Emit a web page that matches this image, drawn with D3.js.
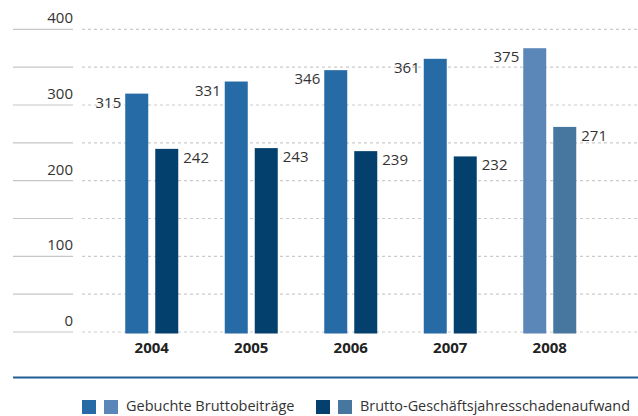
<!DOCTYPE html>
<html>
<head>
<meta charset="utf-8">
<script src="https://cdn.jsdelivr.net/npm/d3@7"></script>
<style>
  body { margin: 0; background: #fff; }
  svg { display: block; font-family: "Open Sans", sans-serif; }
</style>
</head>
<body>
<svg id="chart" width="638" height="416"></svg>
<script>
const years = ["2004", "2005", "2006", "2007", "2008"];
const gebuchte = [315, 331, 346, 361, 375];
const schaden = [242, 243, 239, 232, 271];
const tickValues = [0, 100, 200, 300, 400];
const gridValues = [0, 50, 100, 150, 200, 250, 300, 350, 400];
const seriesNames = ["Gebuchte Bruttobeiträge", "Brutto-Geschäftsjahresschadenaufwand"];

const colors = {
    geb: "#266aa6", gebHi: "#5b87b8",
    sch: "#03406d", schHi: "#47769f"
};

const svg = d3.select("#chart");
const width = 638;

const y = d3.scaleLinear().domain([0, 400]).range([332, 29.3]);
const x = d3.scaleBand().domain(years).range([102, 599.5]);

let bar_w = 23, bar_gap = 3.5;

// gridlines: solid stub on the left, dashed across the plot
const grid = svg.append("g");
grid.selectAll("line.stub")
    .data(gridValues)
    .join("line")
    .attr("class", "stub")
    .attr("x1", 13).attr("x2", 73)
    .attr("y1", d => y(d)).attr("y2", d => y(d))
    .attr("stroke", "#c6c6c6")
    .attr("stroke-width", 1.2);

grid.selectAll("line.dash")
    .data(gridValues)
    .join("line")
    .attr("class", "dash")
    .attr("x1", 82).attr("x2", width)
    .attr("y1", d => y(d)).attr("y2", d => y(d))
    .attr("stroke", "#cbcbcb")
    .attr("stroke-width", 1.2)
    .attr("stroke-dasharray", "3,3");

grid.selectAll("text")
    .data(tickValues)
    .join("text")
    .attr("x", 73)
    .attr("y", d => y(d) - 6)
    .attr("text-anchor", "end")
    .attr("fill", "#333")
    .attr("font-size", "15px")
    .text(d => d);

// bars
const groups = svg.append("g")
    .selectAll("g")
    .data(years.map((yr, i) => ({ year: yr, a: gebuchte[i], b: schaden[i], last: i === years.length - 1 })))
    .join("g")
    .attr("transform", d => "translate(" + (x(d.year) + x.bandwidth() / 2) + ",0)");

groups.append("rect")
    .attr("x", -bar_gap - bar_w)
    .attr("y", d => y(d.a))
    .attr("width", bar_w)
    .attr("height", d => y(0) - y(d.a) + 1.5)
    .attr("fill", d => d.last ? colors.gebHi : colors.geb);

groups.append("rect")
    .attr("x", bar_gap)
    .attr("y", d => y(d.b))
    .attr("width", bar_w)
    .attr("height", d => y(0) - y(d.b) + 1.5)
    .attr("fill", d => d.last ? colors.schHi : colors.sch);

groups.append("text")
    .attr("x", -bar_gap - bar_w - 4)
    .attr("y", d => y(d.a) + 14)
    .attr("text-anchor", "end")
    .attr("fill", "#333")
    .attr("font-size", "15px")
    .text(d => d.a);

groups.append("text")
    .attr("x", bar_gap + bar_w + 5)
    .attr("y", d => y(d.b) + 14)
    .attr("fill", "#333")
    .attr("font-size", "15px")
    .text(d => d.b);

groups.append("text")
    .attr("x", 0)
    .attr("y", 352.5)
    .attr("text-anchor", "middle")
    .attr("fill", "#222")
    .attr("font-size", "15px")
    .attr("font-weight", "bold")
    .text(d => d.year);

// separator line
svg.append("line")
    .attr("x1", 13).attr("x2", width)
    .attr("y1", 377.5).attr("y2", 377.5)
    .attr("stroke", "#1f5f94")
    .attr("stroke-width", 2);

// legend
const legend = [
    { x: 82, c1: colors.geb, c2: colors.gebHi, label: seriesNames[0] },
    { x: 316, c1: colors.sch, c2: colors.schHi, label: seriesNames[1] }
];
const lg = svg.append("g")
    .selectAll("g")
    .data(legend)
    .join("g")
    .attr("transform", d => "translate(" + d.x + ",400)");

lg.append("rect").attr("width", 14).attr("height", 14).attr("fill", d => d.c1);
lg.append("rect").attr("x", 22).attr("width", 14).attr("height", 14).attr("fill", d => d.c2);
lg.append("text")
    .attr("x", 44)
    .attr("y", 11)
    .attr("fill", "#333")
    .attr("font-size", "14.5px")
    .text(d => d.label)
    .each(function (d) {
        // the original font is narrower: squeeze if it would run off the edge
        let room = width - 8 - d.x - 44;
        let len = this.getComputedTextLength();
        if (len > room) {
            d3.select(this).attr("textLength", room).attr("lengthAdjust", "spacingAndGlyphs");
        }
    });
</script>
</body>
</html>
